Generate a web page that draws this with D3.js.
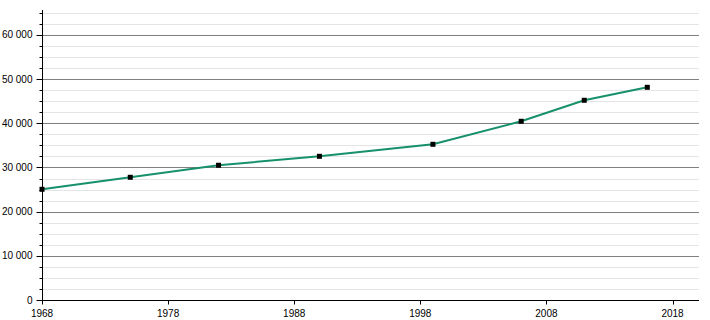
<!DOCTYPE html>
<html>
<head>
<meta charset="utf-8">
<script src="https://cdn.jsdelivr.net/npm/d3@7"></script>
<style>
  body { margin: 0; background: #fff; }
  text { font-family: "Liberation Sans", Arial, sans-serif; font-size: 10px; fill: #000; }
</style>
</head>
<body>
<script>
// population par recensement
var years = [1968, 1975, 1982, 1990, 1999, 2006, 2011, 2016];
var population = [25060, 27780, 30500, 32530, 35250, 40460, 45210, 48150];
var xTicks = [1968, 1978, 1988, 1998, 2008, 2018];
var yTicks = [0, 10000, 20000, 30000, 40000, 50000, 60000];

var width = 710, height = 320;

var svg = d3.select("body").append("svg")
    .attr("width", width)
    .attr("height", height);

var x = d3.scaleLinear().domain([1968, 2020.1]).range([42, 699]);
var y = d3.scaleLinear().domain([0, 65650]).range([300, 10]);

var fmt = function(d) { return d3.format(",")(d).replace(/,/g, " "); };

// petites lignes tous les 2 500
var minor = d3.range(2500, 65650, 2500).filter(d => d % 10000 != 0);

svg.append("g").selectAll("line")
    .data(minor)
    .enter().append("line")
    .attr("x1", 42).attr("x2", 699)
    .attr("y1", d => Math.round(y(d)) + 0.5)
    .attr("y2", d => Math.round(y(d)) + 0.5)
    .style("stroke", "#e4e4e4");

svg.append("g").selectAll("line")
    .data(yTicks.slice(1))
    .enter().append("line")
    .attr("x1", 42).attr("x2", 699)
    .attr("y1", d => Math.round(y(d)) + 0.5)
    .attr("y2", d => Math.round(y(d)) + 0.5)
    .style("stroke", "#808080");

// axe y
var yAxis = svg.append("g")
    .attr("transform", "translate(42.5,0)");
yAxis.append("line")
    .attr("y1", y.range()[1]).attr("y2", 300)
    .style("stroke", "#000");
yAxis.selectAll(".tk")
    .data(d3.range(0, 65650, 2500))
    .enter().append("line")
    .attr("class", "tk")
    .attr("x1", d => d % 10000 == 0 ? -6 : -3).attr("x2", 0)
    .attr("y1", d => Math.round(y(d)) + 0.5)
    .attr("y2", d => Math.round(y(d)) + 0.5)
    .style("stroke", "#000");
yAxis.selectAll("text")
    .data(yTicks)
    .enter().append("text")
    .attr("x", -10)
    .attr("y", d => y(d) + 3.5)
    .attr("text-anchor", "end")
    .text(fmt);

// axe x
var xAxis = svg.append("g")
    .attr("transform", "translate(0,300.5)");
xAxis.append("line")
    .attr("x1", 42).attr("x2", 699)
    .style("stroke", "#000");
xAxis.selectAll(".tk")
    .data(xTicks)
    .enter().append("line")
    .attr("class", "tk")
    .attr("x1", d => Math.round(x(d)) + 0.5)
    .attr("x2", d => Math.round(x(d)) + 0.5)
    .attr("y1", 0).attr("y2", 4)
    .style("stroke", "#000");
xAxis.selectAll("text")
    .data(xTicks)
    .enter().append("text")
    .attr("x", d => x(d))
    .attr("y", 16)
    .attr("text-anchor", "middle")
    .text(d => d);

var pts = years.map((d, i) => ({year: d, value: population[i]}));

var line = d3.line()
    .x(d => x(d.year))
    .y(d => y(d.value));

svg.append("path")
    .datum(pts)
    .attr("d", line)
    .style("fill", "none")
    .style("stroke", "#17906c")
    .style("stroke-width", 2);

svg.append("g").selectAll("rect")
    .data(pts)
    .enter().append("rect")
    .attr("x", d => x(d.year) - 2.5)
    .attr("y", d => y(d.value) - 2.5)
    .attr("width", 5)
    .attr("height", 5)
    .style("fill", "#000");
</script>
</body>
</html>
